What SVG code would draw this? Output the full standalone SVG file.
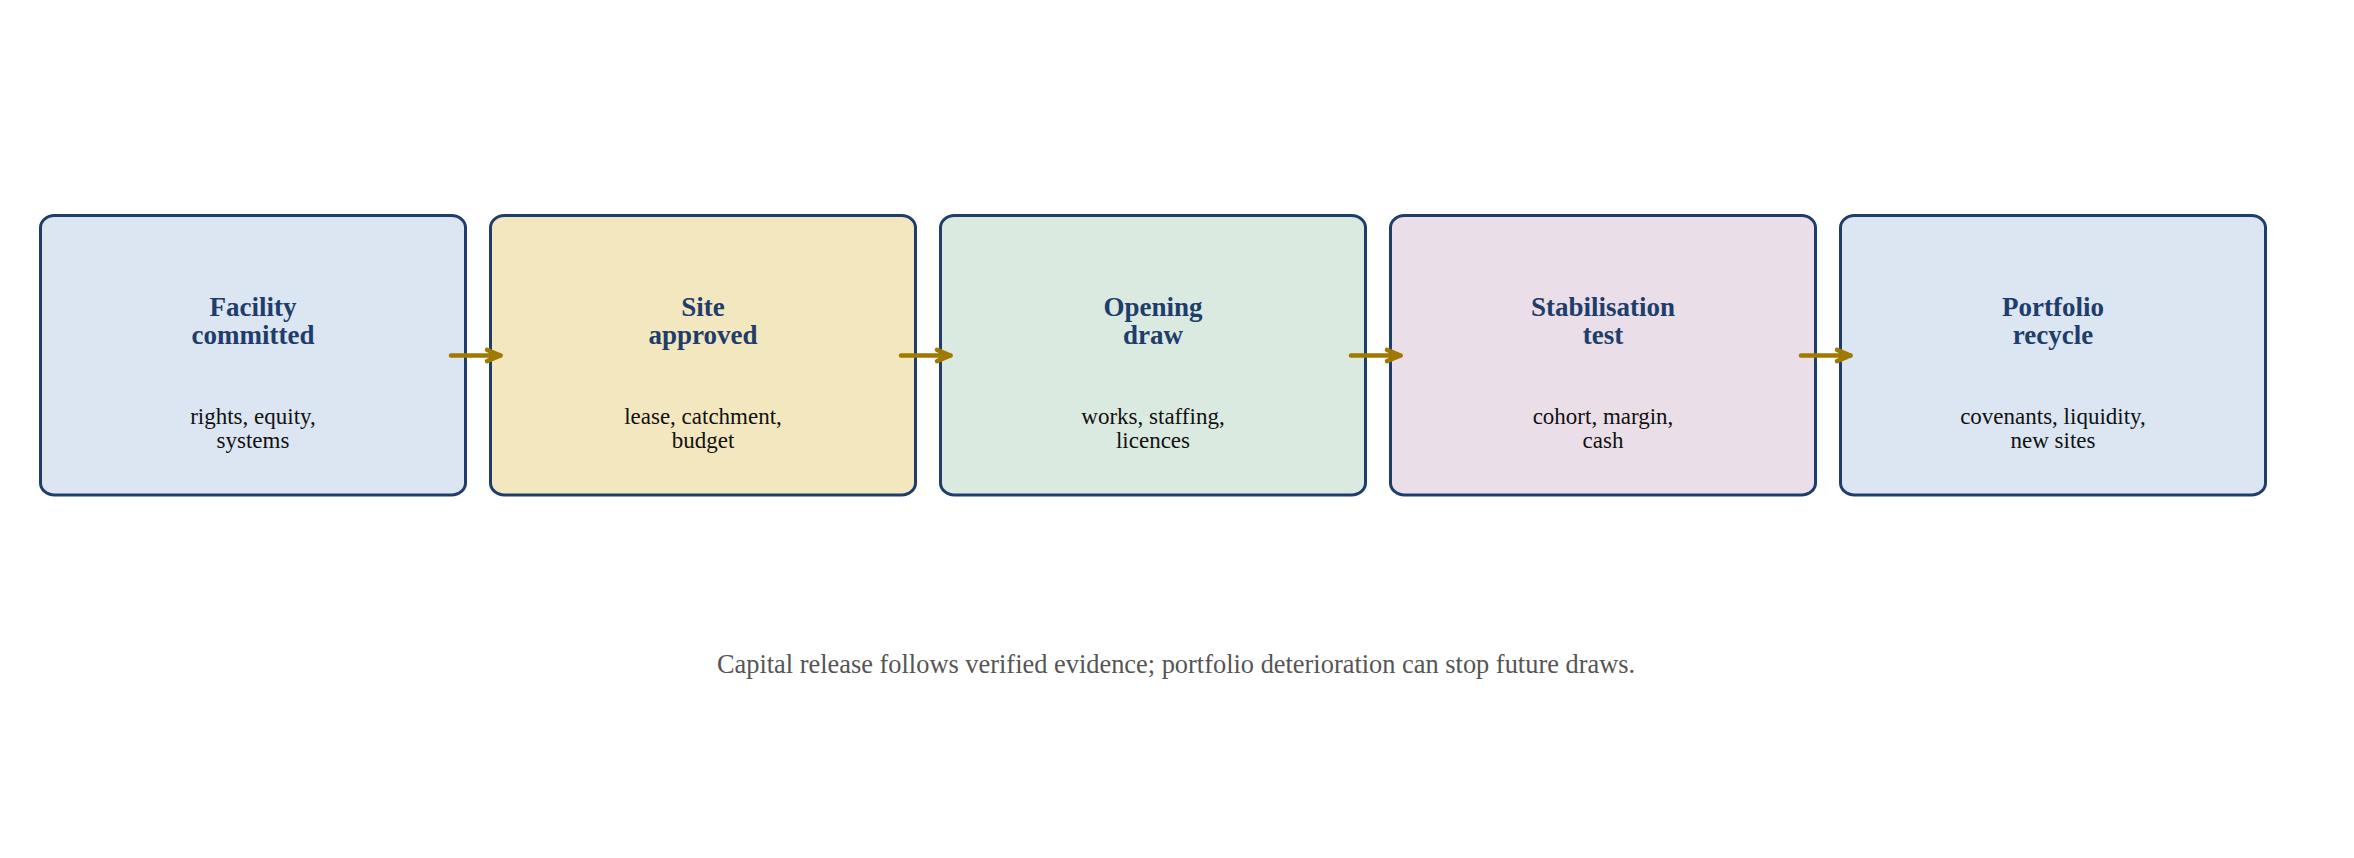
<svg xmlns="http://www.w3.org/2000/svg" width="2354" height="858" viewBox="0 0 2354 858">
  <defs>
    <marker id="arrow" markerWidth="6" markerHeight="6" refX="4.6" refY="3" orient="auto" markerUnits="strokeWidth" overflow="visible">
      <polyline points="1.6,1.75 4.6,3 1.6,4.25" fill="none" stroke="#a07a00" stroke-width="1" stroke-linecap="round" stroke-linejoin="round"/>
    </marker>
  </defs>
  <style>
    .box { stroke: #1f3d6b; stroke-width: 3; }
    .title { font-family: "Liberation Serif", "Times New Roman", serif; font-weight: bold; font-size: 27px; fill: #1f3d6b; text-anchor: middle; }
    .sub { font-family: "Liberation Serif", "Times New Roman", serif; font-size: 23px; fill: #111111; text-anchor: middle; }
    .cap { font-family: "Liberation Serif", "Times New Roman", serif; font-size: 26.4px; fill: #555555; text-anchor: middle; }
    .conn { stroke: #a07a00; stroke-width: 4.5; fill: none; stroke-linecap: round; }
  </style>
  <rect width="2354" height="858" fill="#ffffff"/>
  <g id="node-facility">
    <rect class="box" x="40.5" y="215.5" width="425" height="279.5" rx="14" ry="12" fill="#dbe6f2"/>
    <text class="title" x="253" y="315.5">Facility</text>
    <text class="title" x="253" y="344">committed</text>
    <text class="sub" x="253" y="423.5">rights, equity,</text>
    <text class="sub" x="253" y="447.5">systems</text>
  </g>
  <g id="node-site">
    <rect class="box" x="490.5" y="215.5" width="425" height="279.5" rx="14" ry="12" fill="#f3e7bf"/>
    <text class="title" x="703" y="315.5">Site</text>
    <text class="title" x="703" y="344">approved</text>
    <text class="sub" x="703" y="423.5">lease, catchment,</text>
    <text class="sub" x="703" y="447.5">budget</text>
  </g>
  <g id="node-opening">
    <rect class="box" x="940.5" y="215.5" width="425" height="279.5" rx="14" ry="12" fill="#dbeae0"/>
    <text class="title" x="1153" y="315.5">Opening</text>
    <text class="title" x="1153" y="344">draw</text>
    <text class="sub" x="1153" y="423.5">works, staffing,</text>
    <text class="sub" x="1153" y="447.5">licences</text>
  </g>
  <g id="node-stabilisation">
    <rect class="box" x="1390.5" y="215.5" width="425" height="279.5" rx="14" ry="12" fill="#eadfe8"/>
    <text class="title" x="1603" y="315.5">Stabilisation</text>
    <text class="title" x="1603" y="344">test</text>
    <text class="sub" x="1603" y="423.5">cohort, margin,</text>
    <text class="sub" x="1603" y="447.5">cash</text>
  </g>
  <g id="node-portfolio">
    <rect class="box" x="1840.5" y="215.5" width="425" height="279.5" rx="14" ry="12" fill="#dbe6f2"/>
    <text class="title" x="2053" y="315.5">Portfolio</text>
    <text class="title" x="2053" y="344">recycle</text>
    <text class="sub" x="2053" y="423.5">covenants, liquidity,</text>
    <text class="sub" x="2053" y="447.5">new sites</text>
  </g>
  <g id="connectors">
    <line class="conn" x1="451" y1="355.5" x2="500.5" y2="355.5" marker-end="url(#arrow)"/>
    <line class="conn" x1="901" y1="355.5" x2="950.5" y2="355.5" marker-end="url(#arrow)"/>
    <line class="conn" x1="1351" y1="355.5" x2="1400.5" y2="355.5" marker-end="url(#arrow)"/>
    <line class="conn" x1="1801" y1="355.5" x2="1850.5" y2="355.5" marker-end="url(#arrow)"/>
  </g>
  <text class="cap" x="1176" y="673">Capital release follows verified evidence; portfolio deterioration can stop future draws.</text>
</svg>
